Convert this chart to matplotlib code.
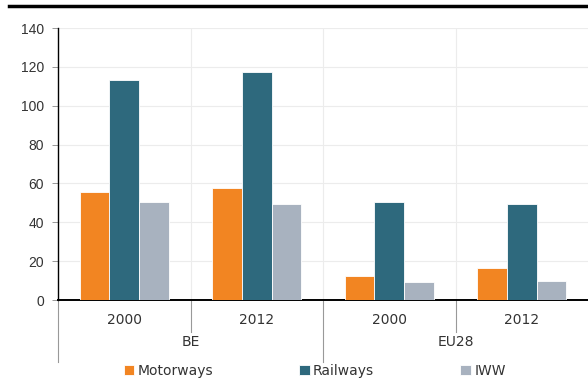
import matplotlib.pyplot as plt
import numpy as np

# passenger transport density by mode
groups = ['BE', 'EU28']
years = ['2000', '2012', '2000', '2012']
motorways = [55.6, 57.5, 12.5, 16.4]
railways = [113.4, 117.2, 50.2, 49.2]
iww = [50.2, 49.5, 9.2, 9.7]

series = [('Motorways', motorways, '#F28522'),
          ('Railways', railways, '#2E697D'),
          ('IWW', iww, '#A8B2BF')]

fig = plt.figure(figsize=(5.88, 3.79), dpi=100)
ax = fig.add_axes([58 / 588, 1 - 300 / 379, 1 - 58 / 588, 272 / 379])

x = np.arange(len(years))
w = 0.224
for i, (name, vals, col) in enumerate(series):
    ax.bar(x + (i - 1) * w, vals, w, color=col, edgecolor='white',
           linewidth=0.6, label=name, zorder=3)

ax.set_xlim(-0.5, len(years) - 0.5)
ax.set_ylim(0, 140)
ax.set_yticks(np.arange(0, 141, 20))
ax.yaxis.grid(True, color='#ececec', linewidth=0.8, zorder=0)
ax.axhline(140, color='#c8c8c8', linewidth=1.2, zorder=1)
for b in x[:-1] + 0.5:
    ax.axvline(b, color='#ececec', linewidth=0.8, zorder=0)

for s in ['top', 'right']:
    ax.spines[s].set_visible(False)
ax.spines['left'].set_linewidth(1.0)
ax.spines['bottom'].set_linewidth(1.4)
ax.tick_params(axis='y', length=4, width=0.6, color='#888888', pad=6,
               labelsize=10, labelcolor='#333333')
for t in ax.get_yticklabels():
    t.set_fontfamily('Liberation Sans')

# year labels and group labels under the axis
ax.set_xticks(x)
ax.set_xticklabels(years, fontsize=10, color='#333333')
ax.tick_params(axis='x', length=0, pad=9)
trans = ax.get_xaxis_transform()
px = 1 / 272
for gi, g in enumerate(groups):
    ax.text(gi * 2 + 0.5, -42 * px, g, transform=trans, ha='center',
            va='center', fontsize=10, color='#333333')
for b in [0.5, 2.5]:
    ax.plot([b, b], [0, -32 * px], transform=trans, color='#999999',
            linewidth=0.8, clip_on=False)
for b in [-0.5, 1.5]:
    ax.plot([b, b], [0, -62 * px], transform=trans, color='#999999',
            linewidth=0.8, clip_on=False)

fig.legend(loc='center', bbox_to_anchor=(0.535, 1 - 371 / 379), ncol=3,
           frameon=False, fontsize=10, handlelength=0.75, handleheight=0.75,
           handletextpad=0.25, columnspacing=6.2, labelcolor='#333333')

# heading rule
fig.add_artist(plt.Line2D([9 / 588, 1], [1 - 6 / 379] * 2, color='black',
                          linewidth=2.5, transform=fig.transFigure))

fig.savefig('out.png', dpi=100)
